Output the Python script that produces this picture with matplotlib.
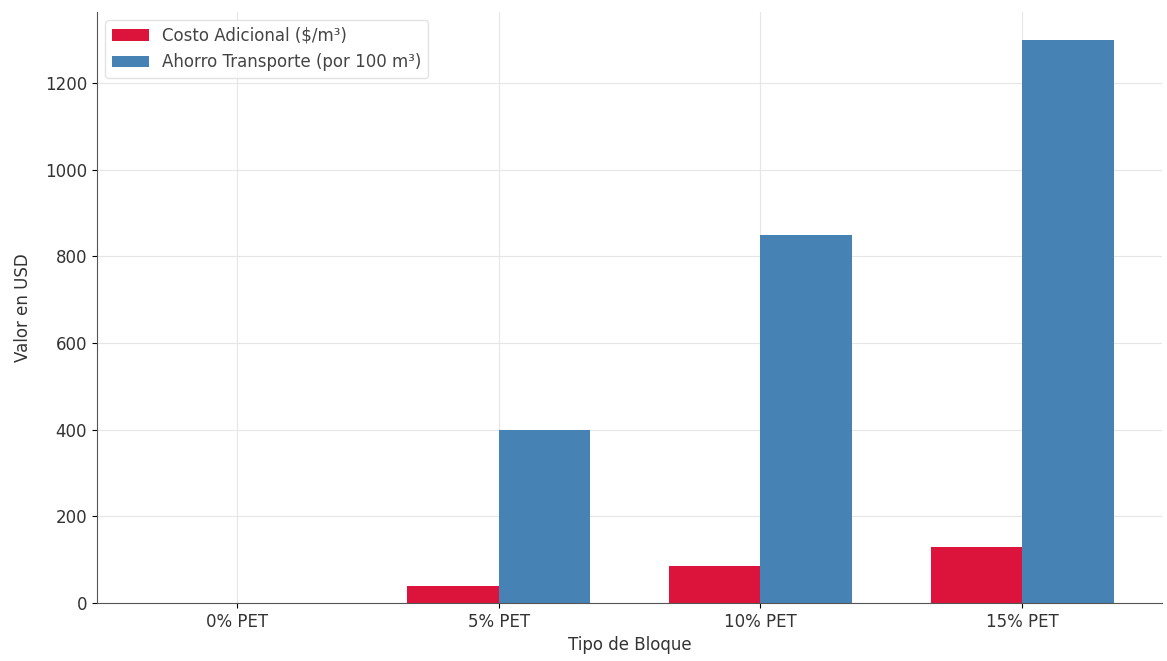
import matplotlib
matplotlib.use("Agg")
import matplotlib.pyplot as plt
import numpy as np

categorias = ["0% PET", "5% PET", "10% PET", "15% PET"]
costo_adicional = [0, 40, 85, 130]
ahorro_transporte = [0, 400, 850, 1300]

x = np.arange(len(categorias))
ancho = 0.35

fig = plt.figure(figsize=(11.67, 6.61), dpi=100)
ax = fig.add_axes([0.083, 0.088, 0.913, 0.894])

ax.bar(x - ancho / 2, costo_adicional, ancho, color="#DC143C", label="Costo Adicional ($/m³)")
ax.bar(x + ancho / 2, ahorro_transporte, ancho, color="#4682B4", label="Ahorro Transporte (por 100 m³)")

ax.set_xticks(x)
ax.set_xticklabels(categorias, fontsize=12, color="#333333")
ax.tick_params(axis="y", labelsize=12, labelcolor="#333333")
ax.set_xlabel("Tipo de Bloque", fontsize=12, color="#333333")
ax.set_ylabel("Valor en USD", fontsize=12, color="#333333", labelpad=9)

ax.grid(True, color="#e6e6e6", linewidth=0.8)
ax.set_axisbelow(True)
for s in ["top", "right"]:
    ax.spines[s].set_visible(False)
for s in ["left", "bottom"]:
    ax.spines[s].set_color("#555555")

leg = ax.legend(loc="upper left", fontsize=12, frameon=True, edgecolor="#dddddd",
                handlelength=2.2)
for t in leg.get_texts():
    t.set_color("#444444")

fig.savefig("out.png", dpi=100)
